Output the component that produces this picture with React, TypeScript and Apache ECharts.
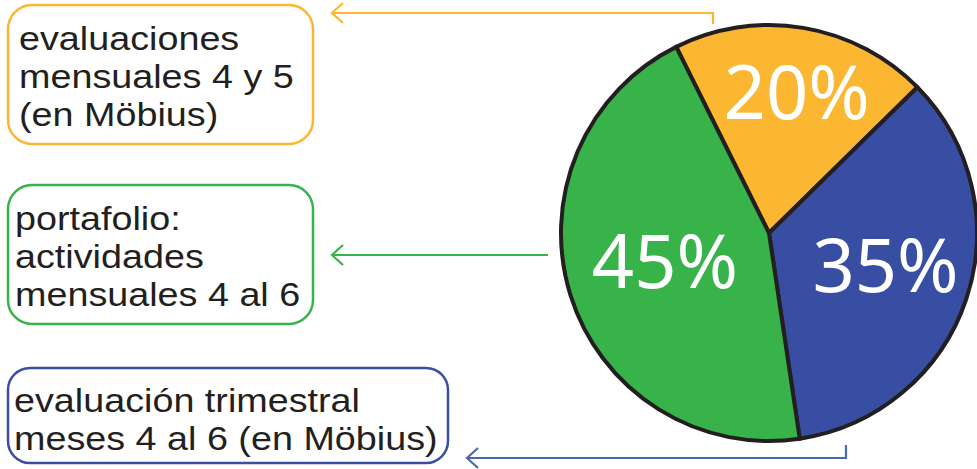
import React, { useEffect, useRef } from "react";
import * as echarts from "echarts";

const categories = [
  "evaluaciones mensuales 4 y 5 (en Möbius)",
  "evaluación trimestral meses 4 al 6 (en Möbius)",
  "portafolio: actividades mensuales 4 al 6",
];
const values = [20, 35, 45];
const sliceColors = ["#FBB731", "#374EA2", "#37B34A"];
const labelOffsets = [[10, -37], [15, -3], [-2, -6]];

const box1Lines = ["evaluaciones", "mensuales 4 y 5", "(en Möbius)"];
const box2Lines = ["portafolio:", "actividades", "mensuales 4 al 6"];
const box3Lines = ["evaluación trimestral", "meses 4 al 6 (en Möbius)"];

const FONT = '"Noto Sans", sans-serif';
const BOX_FONT = '"Liberation Sans", Arial, sans-serif';
const LINE_H = 38;

function textLines(lines: string[], x: number, y0: number) {
  return lines.map((t, i) => ({
    type: "text",
    x,
    y: y0 + i * LINE_H,
    scaleX: 1.11,
    style: {
      text: t,
      x: 0,
      y: 0,
      fill: "#231F20",
      font: `34px ${BOX_FONT}`,
      textVerticalAlign: "middle",
      textAlign: "left",
    },
  }));
}

function arrow(points: number[][], color: string) {
  const tip = points[points.length - 1];
  return [
    { type: "polyline", shape: { points }, style: { stroke: color, lineWidth: 2.2, fill: null } },
    {
      type: "polyline",
      shape: { points: [[tip[0] + 11, tip[1] - 10], tip, [tip[0] + 11, tip[1] + 10]] },
      style: { stroke: color, lineWidth: 2.2, fill: null },
    },
  ];
}

export default function App() {
  const ref = useRef<HTMLDivElement>(null);
  useEffect(() => {
    if (!ref.current) return;
    const chart = echarts.init(ref.current, null, { renderer: "svg" });
    chart.setOption({
      animation: false,
      backgroundColor: "#ffffff",
      graphic: [
        { type: "rect", shape: { x: 8, y: 5, width: 305, height: 139, r: 24 }, style: { fill: "#fff", stroke: "#FBB731", lineWidth: 2.5 } },
        { type: "rect", shape: { x: 8, y: 185, width: 305, height: 139, r: 24 }, style: { fill: "#fff", stroke: "#37B34A", lineWidth: 2.5 } },
        { type: "rect", shape: { x: 8, y: 368, width: 440, height: 95, r: 22 }, style: { fill: "#fff", stroke: "#3B4FA0", lineWidth: 2.5 } },
        ...textLines(box1Lines, 19, 38),
        ...textLines(box2Lines, 15, 218),
        ...textLines(box3Lines, 14, 400),
        ...arrow([[713, 24], [713, 13], [332, 13]], "#FBB731"),
        ...arrow([[548, 255], [332, 255]], "#37B34A"),
        ...arrow([[846, 445], [846, 458], [467, 458]], "#4A6AAE"),
      ],
      series: [
        {
          type: "pie",
          center: [769, 233],
          radius: 208,
          startAngle: 116.5,
          clockwise: true,
          silent: true,
          z: 1,
          itemStyle: { borderColor: "#231F20", borderWidth: 4 },
          label: {
            show: true,
            position: "inside",
            formatter: "{c}%",
            color: "#ffffff",
            fontSize: 74,
            fontFamily: FONT,
            fontWeight: "normal",
          },
          labelLine: { show: false },
          data: categories.map((name, i) => ({
            name,
            value: values[i],
            itemStyle: { color: sliceColors[i] },
            label: { offset: labelOffsets[i] },
          })),
        },
      ],
    });
    return () => chart.dispose();
  }, []);
  return <div ref={ref} style={{ width: 977, height: 469, position: "absolute", left: 0, top: 0 }} />;
}
